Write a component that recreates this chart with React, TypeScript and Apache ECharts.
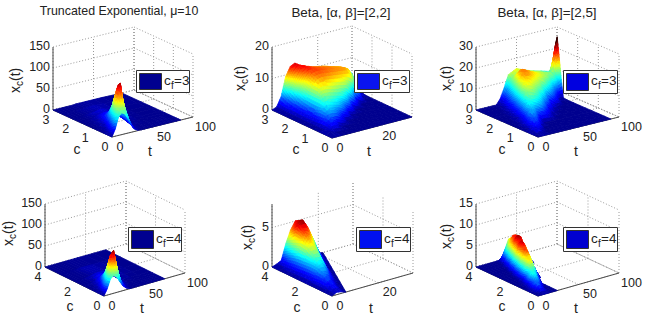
import React, { useEffect, useRef } from "react";
import * as echarts from "echarts";

const _ = null;

// ---- Panel 1: Truncated Exponential, c_f=3
const t1 = [0, 4, 8, 12, 16, 20, 24, 28, 32, 36, 40, 50, 60, 80, 85];
const c1 = [0, 0.1, 0.2, 0.3, 0.4, 0.5, 0.6, 0.8, 1, 1.3, 1.6, 2, 2.5, 3];
const z1 = [
  [0, 17, 43, 52, 47, 35, 16, 5, 1, 0, 0, 0, 0, 0, 0],
  [0, 14, 42, 60, 62, 46, 24, 9, 2, 0, 0, 0, 0, 0, 0],
  [0, 10, 34, 60, 78, 60, 30, 12, 4, 1, 0, 0, 0, 0, 0],
  [0, 6, 24, 56, 92, 78, 38, 16, 5, 1, 0, 0, 0, 0, 0],
  [0, 3, 16, 44, 94, 110, 50, 20, 7, 2, 0, 0, 0, 0, 0],
  [0, 1, 10, 32, 76, 104, 58, 24, 9, 3, 1, 0, 0, 0, 0],
  [0, 0.5, 6, 20, 56, 88, 54, 25, 10, 3, 1, 0, 0, 0, 0],
  [0, 0, 2, 8, 26, 50, 46, 28, 14, 6, 2, 0, 0, 0, 0],
  [0, 0, 1, 4, 12, 26, 32, 25, 16, 8, 3, 1, 0, 0, 0],
  [0, 0, 0, 2, 5, 11, 16, 18, 14, 9, 5, 1, 0, 0, 0],
  [0, 0, 0, 1, 2, 5, 8, 10, 10, 8, 5, 2, 0, 0, 0],
  [0, 0, 0, 0, 1, 2, 3, 4, 6, 6, 5, 2, 1, 0, 0],
  [0, 0, 0, 0, 0, 1, 1, 2, 2, 3, 3, 2, 1, 0, 0],
  [0, 0, 0, 0, 0, 0, 0, 1, 1, 1, 1, 1, 1, 0, 0],
];

// ---- Panel 2: Beta [2,2], c_f=3
const t2 = [0, 2, 4, 6, 8, 10, 12, 14, 16, 18, 20, 22, 24, 26, 28, 30, 32, 35];
const c2 = [0, 0.3, 0.6, 0.9, 1.2, 1.5, 1.8, 2.1, 2.4, 2.7, 3];
const z2 = [
  [0, 0, 0, 0, 0, 0, 0, 0, 0, 0, 0, 0, 0, 0, 0, 0, 0, 0],
  [0, 0.9, 0.2, 0, 0, 0, 0, 0, 0, 0, 0, 0, 0, 0, 0, 0, 0, 0],
  [0, 0.4, 1.7, 2.2, 0.8, 0, 0, 0, 0, 0, 0, 0, 0, 0, 0, 0, 0, 0],
  [0, 0.3, 2, 3.5, 3.6, 3.2, 1.8, 0.2, 0, 0, 0, 0, 0, 0, 0, 0, 0, 0],
  [0, 0.3, 1.5, 4, 5.3, 5, 4.6, 4.2, 2.8, 0.5, 0, 0, 0, 0, 0, 0, 0, 0],
  [0, 0.3, 1.5, 3.3, 6, 6.8, 6.6, 6.2, 5.8, 5.4, 4, 0.8, 0, 0, 0, 0, 0, 0],
  [0, 0.3, 1.5, 3.4, 6, 8.3, 8.8, 8.5, 8.1, 7.8, 7.5, 7.2, 5.2, 1.5, 0, 0, 0, 0],
  [0, 0.35, 1.7, 3.8, 6, 8.5, 10, 10.4, 10.2, 10, 9.8, 9.6, 9.4, 9.2, 6.5, 2.5, 0, 0],
  [0, 0.4, 2, 4.5, 7, 9.2, 10.8, 11.3, 11.2, 11, 10.8, 10.6, 10.5, 10.3, 9.5, 7, 2.3, 0],
  [0, 0.5, 2.5, 6, 9.5, 11.5, 12.4, 11.8, 11.3, 11, 10.7, 10.4, 10, 9.7, 9, 8.3, 5, 0.5],
  [0, 0.6, 3.5, 9.5, 12.3, 13, 12, 11.3, 10.8, 10.3, 10, 9.7, 9.3, 8.5, 8, 7.5, 6.7, 5],
];

// ---- Panel 3: Beta [2,5], c_f=3
const t3 = [0, 5, 10, 15, 20, 25, 30, 35, 40, 50, 60, 70, 80, 85, 90];
const c3 = [0, 0.3, 0.6, 0.9, 1.2, 1.5, 1.8, 2.1, 2.3, 2.4, 2.5, 2.6, 2.7, 2.85, 3];
const z3 = [
  [0, 0, 0, 0, 0, 0, 0, 0, 0, 0, 0, 0, 0, 0, 0],
  [0, 3, 1.5, 0, 0, 0, 0, 0, 0, 0, 0, 0, 0, 0, 0],
  [0, 1, 5.5, 4, 0, 0, 0, 0, 0, 0, 0, 0, 0, 0, 0],
  [0, 0, 3, 7.8, 6, 2, 0, 0, 0, 0, 0, 0, 0, 0, 0],
  [0, 0, 0.5, 4, 10, 9, 8, 6.5, 3.5, 0, 0, 0, 0, 0, 0],
  [0, 0, 0, 1.5, 6, 12.5, 12, 11, 9.5, 3, 0, 0, 0, 0, 0],
  [0, 0, 0, 0.3, 3, 8.5, 15.5, 15, 13.5, 11, 3, 0, 0, 0, 0],
  [0, 0, 0, 0, 1, 4.5, 11, 18, 18, 15, 13, 7, 0, 0, 0],
  [0, 0, 0, 0, 0.3, 3, 8, 14.5, 18.5, 16.5, 14.5, 12.5, 5, 0.8, 0.3],
  [0, 0, 0, 0, 0.1, 2, 6.5, 12.5, 18, 16.3, 14.3, 12.5, 11, 7, 8.7],
  [0, 0, 0, 0, 0, 1.5, 5.5, 11, 16.5, 15.6, 14.3, 13.2, 12, 10, 18.6],
  [0, 0, 0, 0, 0, 0.8, 4.2, 9.5, 15, 15.3, 14.2, 13, 11.8, 11.5, 28],
  [0, 0, 0, 0, 0, 0.4, 3, 8, 13.5, 14.9, 13.8, 12.7, 11.5, 10.5, 23],
  [0, 0, 0, 0, 0, 0.2, 1.8, 6, 11.5, 14.3, 13.4, 12.2, 10.8, 10, 11],
  [0, 0, 0, 0, 0, 0, 2.6, 7.5, 13, 15, 13.3, 12, 11, 10.4, 9.8],
];

// ---- Panel 4: Truncated Exponential, c_f=4
const t4 = [0, 4, 8, 12, 16, 20, 24, 28, 32, 36, 40, 50, 60, 75];
const c4 = [0, 0.15, 0.3, 0.45, 0.6, 0.8, 1, 1.4, 2, 3, 4];
const z4 = [
  [0, 15, 36, 42, 36, 22, 10, 3, 0, 0, 0, 0, 0, 0],
  [0, 12, 36, 54, 60, 40, 18, 6, 1, 0, 0, 0, 0, 0],
  [0, 8, 28, 54, 82, 64, 28, 10, 3, 0, 0, 0, 0, 0],
  [0, 4, 18, 42, 80, 90, 44, 16, 5, 1, 0, 0, 0, 0],
  [0, 2, 10, 28, 58, 76, 48, 20, 7, 2, 0, 0, 0, 0],
  [0, 0, 5, 14, 34, 48, 40, 22, 10, 3, 1, 0, 0, 0],
  [0, 0, 2, 7, 18, 28, 30, 20, 11, 5, 2, 0, 0, 0],
  [0, 0, 0, 2, 5, 10, 13, 13, 10, 6, 3, 1, 0, 0],
  [0, 0, 0, 0, 1, 2, 4, 5, 5, 5, 3, 2, 0, 0],
  [0, 0, 0, 0, 0, 0, 1, 1, 1, 1, 1, 1, 0, 0],
  [0, 0, 0, 0, 0, 0, 0, 0, 0, 0, 0, 0, 0, 0],
];

// ---- Panel 5: Beta [2,2], c_f=4
const t5 = [0, 2, 4, 6, 8, 10, 12, 14, 16, 18, 20, 22];
const c5 = [0, 0.5, 1, 1.5, 2, 2.5, 3, 3.5, 4];
const z5 = [
  [0, 0.3, 0.2, 0, _, _, _, _, _, _, _, _],
  [0, 0.6, 0.7, 0.1, 0, _, _, _, _, _, _, _],
  [0, 0.8, 1.3, 0.7, 0.1, 0, _, _, _, _, _, _],
  [0, 0.7, 1.7, 1.8, 1, 0.1, 0, _, _, _, _, _],
  [0, 0.6, 1.8, 2.5, 2.4, 1.2, 0.1, 0, _, _, _, _],
  [0, 0.5, 1.7, 3.2, 3.4, 2.6, 1, 0.1, 0, _, _, _],
  [0, 0.4, 1.6, 3.4, 4.5, 4, 2.8, 1.3, 0.2, 0, _, _],
  [0, 0.3, 1.3, 3, 5.3, 5.6, 4.6, 3.2, 1.7, 0.3, 0, _],
  [0, 0.2, 0.5, 2.5, 4, 5, 4.7, 3.8, 2.6, 1.3, 0.1, 0],
];

// ---- Panel 6: Beta [2,5], c_f=4
const t6 = [0, 4, 8, 12, 16, 20, 24, 28, 32, 36, 40, 44, 48, 52, 56, 60];
const c6 = [0, 0.5, 1, 1.5, 2, 2.5, 3, 3.5, 4];
const z6 = [
  [0, 0, 0, 0, 0, 0, 0, _, _, _, _, _, _, _, _, _],
  [0, 0.6, 2, 1.2, 0.2, 0, 0, _, _, _, _, _, _, _, _, _],
  [0, 0, 0.8, 3.3, 2.8, 0.6, 0, _, _, _, _, _, _, _, _, _],
  [0, 0, 0, 0.8, 4.2, 5, 2.8, 0.6, 0, _, _, _, _, _, _, _],
  [0, 0, 0, 0, 1.8, 5, 6.4, 4.6, 1.8, 0, _, _, _, _, _, _],
  [0, 0, 0, 0, 0, 2, 5.8, 7.3, 6, 3.2, 1, 0, _, _, _, _],
  [0, 0, 0, 0, 0, 0, 1.8, 5.3, 7.5, 7, 4.5, 2, 0.4, 0, _, _],
  [0, 0, 0, 0, 0, 0, 0, 1.5, 4.5, 6.4, 6.3, 4.5, 2.4, 0.8, 0, _],
  [0, 0, 0, 0, 0, 0, 0, 0, 0.6, 2.3, 4.4, 4.5, 3.2, 1.7, 0.5, 0],
];

const titles = ["Truncated Exponential, μ=10", "Beta, [α, β]=[2,2]", "Beta, [α, β]=[2,5]", "", "", ""];
const titleSizes = [12.4, 13.4, 13.4, 0, 0, 0];
const legendLabels = ["=3", "=3", "=3", "=4", "=4", "=4"];
const legendColors = ["#00008f", "#0a14f0", "#0000e0", "#00008f", "#0010f0", "#0000d0"];
const tTicks = [[0, 50, 100], [0, 20], [0, 50, 100], [0, 50, 100], [0, 20], [0, 50, 100]];
const cTicks = [[0, 1, 2, 3], [0, 1, 2, 3], [0, 1, 2, 3], [0, 2, 4], [0, 2, 4], [0, 2, 4]];
const zTicks = [[0, 50, 100, 150], [0, 10, 20], [0, 10, 20, 30], [0, 50, 100, 150], [0, 5], [0, 5, 10, 15]];
const tMax = [100, 35, 100, 100, 35, 100];
const cMax = [3, 3, 3, 4, 4, 4];
const zMax = [150, 20, 30, 150, 8, 15];
const colorMax = [112, 14, 24, 90, 5.6, 7.5];

const surfaces = [
  { t: t1, c: c1, z: z1 },
  { t: t2, c: c2, z: z2 },
  { t: t3, c: c3, z: z3 },
  { t: t4, c: c4, z: z4 },
  { t: t5, c: c5, z: z5 },
  { t: t6, c: c6, z: z6 },
];

// Layout: projected box corners in page pixels.
const layout = [
  { L: [53, 110], F: [112, 137], R: [193, 117], title: [119, 11], cLab: [77, 149], tLab: [150, 151], yLab: [15, 80], legend: [136, 70, 53, 22] },
  { L: [272, 110], F: [332, 138], R: [412, 117], title: [341, 12], cLab: [296, 149], tLab: [369, 151], yLab: [240, 78], legend: [354, 70, 55, 22] },
  { L: [476, 110], F: [538, 137], R: [619, 117], title: [547, 12], cLab: [502, 149], tLab: [576, 151], yLab: [446, 78], legend: [563, 70, 54, 23] },
  { L: [45, 267], F: [104, 296], R: [185, 273], title: [0, 0], cLab: [70, 306], tLab: [142, 308], yLab: [8, 233], legend: [128, 227, 53, 24] },
  { L: [272, 267], F: [332, 296], R: [413, 273], title: [0, 0], cLab: [297, 307], tLab: [371, 308], yLab: [247, 237], legend: [356, 227, 54, 24] },
  { L: [476, 267], F: [538, 296], R: [619, 273], title: [0, 0], cLab: [502, 306], tLab: [576, 308], yLab: [446, 236], legend: [563, 227, 54, 24] },
];
const BOX_H = 63;
const FONT = '"Liberation Sans", Arial, sans-serif';
const AXIS = "#4a4a4a";
const TXT = "#222";

function project(p: number, t: number, c: number, z: number) {
  const { L, F, R } = layout[p];
  const u = t / tMax[p];
  const v = c / cMax[p];
  return [
    F[0] + u * (R[0] - F[0]) + v * (L[0] - F[0]),
    F[1] + u * (R[1] - F[1]) + v * (L[1] - F[1]) - (BOX_H * z) / zMax[p],
  ];
}

function clamp01(x: number) {
  return Math.max(0, Math.min(1, x));
}
function jet(v: number) {
  const r = clamp01(Math.min(4 * v - 1.5, -4 * v + 4.5));
  const g = clamp01(Math.min(4 * v - 0.5, -4 * v + 3.5));
  const b = clamp01(Math.min(4 * v + 0.5625, -4 * v + 2.5));
  return `rgb(${Math.round(r * 255)},${Math.round(g * 255)},${Math.round(b * 255)})`;
}

function surfaceSeries(p: number) {
  const { t, c, z } = surfaces[p];
  const cells: number[][] = [];
  for (let i = c.length - 2; i >= 0; i--) {
    for (let j = t.length - 2; j >= 0; j--) {
      const missing = [z[i][j], z[i][j + 1], z[i + 1][j], z[i + 1][j + 1]].filter((v) => v === null).length;
      if (missing <= 1) cells.push([i, j]);
    }
  }
  return {
    type: "custom",
    xAxisIndex: p,
    yAxisIndex: p,
    silent: true,
    clip: false,
    progressive: 0,
    z: 3,
    data: cells,
    encode: { x: 0, y: 1 },
    renderItem: (params: any, api: any) => {
      const [i, j] = cells[params.dataIndex];
      const corners: [number, number][] = [[i, j], [i, j + 1], [i + 1, j + 1], [i + 1, j]];
      const hasGap = corners.some(([r, s]) => z[r][s] === null);
      if (hasGap) {
        const kept = corners.filter(([r, s]) => z[r][s] !== null);
        const mean = kept.reduce((sum, [r, s]) => sum + (z[r][s] as number), 0) / kept.length;
        const col = jet(mean / colorMax[p]);
        return {
          type: "polygon",
          shape: { points: kept.map(([r, s]) => api.coord(project(p, t[s], c[r], z[r][s] as number))) },
          style: { fill: col, stroke: col, lineWidth: 0.8 },
        };
      }
      const a = z[i][j] as number, b = z[i][j + 1] as number, d = z[i + 1][j] as number, e = z[i + 1][j + 1] as number;
      const range = Math.max(a, b, d, e) - Math.min(a, b, d, e);
      const n = Math.max(1, Math.min(6, Math.ceil((range / colorMax[p]) * 14)));
      const children: any[] = [];
      const at = (su: number, sv: number) => {
        const tt = t[j] + su * (t[j + 1] - t[j]);
        const cc = c[i] + sv * (c[i + 1] - c[i]);
        const zz = (1 - su) * (1 - sv) * a + su * (1 - sv) * b + (1 - su) * sv * d + su * sv * e;
        return { pt: api.coord(project(p, tt, cc, zz)), zz };
      };
      for (let sv = n - 1; sv >= 0; sv--) {
        for (let su = n - 1; su >= 0; su--) {
          const q = [at(su / n, sv / n), at((su + 1) / n, sv / n), at((su + 1) / n, (sv + 1) / n), at(su / n, (sv + 1) / n)];
          const mean = (q[0].zz + q[1].zz + q[2].zz + q[3].zz) / 4;
          const col = jet(mean / colorMax[p]);
          children.push({
            type: "polygon",
            shape: { points: q.map((o) => o.pt) },
            style: { fill: col, stroke: col, lineWidth: 0.8 },
          });
        }
      }
      return { type: "group", children };
    },
  };
}

function frameSeries(p: number) {
  const tm = tMax[p], cm = cMax[p], zm = zMax[p];
  const segs: { a: number[]; b: number[]; solid: boolean }[] = [];
  const P = (t: number, c: number, z: number) => project(p, t, c, z);
  zTicks[p].forEach((z) => {
    segs.push({ a: P(0, cm, z), b: P(tm, cm, z), solid: false });
    segs.push({ a: P(tm, cm, z), b: P(tm, 0, z), solid: false });
  });
  tTicks[p].forEach((t) => {
    segs.push({ a: P(t, cm, 0), b: P(t, cm, zm), solid: false });
    segs.push({ a: P(t, 0, 0), b: P(t, cm, 0), solid: false });
  });
  cTicks[p].forEach((c) => {
    segs.push({ a: P(tm, c, 0), b: P(tm, c, zm), solid: false });
    segs.push({ a: P(0, c, 0), b: P(tm, c, 0), solid: false });
  });
  segs.push({ a: P(tm, cm, 0), b: P(tm, cm, zm), solid: false });
  segs.push({ a: P(tm, cm, 0), b: P(tm, 0, 0), solid: false });
  // solid axes
  segs.push({ a: P(0, cm, 0), b: P(0, cm, zm), solid: true });
  segs.push({ a: P(0, cm, 0), b: P(0, 0, 0), solid: true });
  segs.push({ a: P(0, 0, 0), b: P(tm, 0, 0), solid: true });
  return {
    type: "custom",
    xAxisIndex: p,
    yAxisIndex: p,
    silent: true,
    clip: false,
    progressive: 0,
    z: 2,
    data: segs.map((_s, i) => [i, i]),
    encode: { x: 0, y: 1 },
    renderItem: (params: any, api: any) => {
      const s = segs[params.dataIndex];
      const a = api.coord(s.a), b = api.coord(s.b);
      return {
        type: "line",
        shape: { x1: a[0], y1: a[1], x2: b[0], y2: b[1] },
        style: s.solid
          ? { stroke: AXIS, lineWidth: 1, fill: "none" }
          : { stroke: "#9a9a9a", lineWidth: 1, lineDash: [1, 2], fill: "none" },
      };
    },
  };
}

function labelSeries(p: number) {
  const items: { pos: number[]; text: string; align: string; dx: number; dy: number }[] = [];
  zTicks[p].forEach((z) => items.push({ pos: project(p, 0, cMax[p], z), text: String(z), align: "right", dx: -3, dy: -1 }));
  tTicks[p].forEach((t) => items.push({ pos: project(p, t, 0, 0), text: String(t), align: "left", dx: t === 100 ? 2 : 4.5, dy: 9.5 }));
  cTicks[p].forEach((c) => items.push({ pos: project(p, 0, c, 0), text: String(c), align: "center", dx: -7, dy: 10 }));
  return {
    type: "custom",
    xAxisIndex: p,
    yAxisIndex: p,
    silent: true,
    clip: false,
    progressive: 0,
    z: 5,
    data: items.map((_s, i) => [i, i]),
    encode: { x: 0, y: 1 },
    renderItem: (params: any, api: any) => {
      const it = items[params.dataIndex];
      const a = api.coord(it.pos);
      return {
        type: "text",
        style: {
          x: a[0] + it.dx,
          y: a[1] + it.dy,
          text: it.text,
          fill: TXT,
          font: `12.5px ${FONT}`,
          align: it.align,
          verticalAlign: "middle",
        },
      };
    },
  };
}

function textEl(text: string, x: number, y: number, size: number, align = "center") {
  return {
    type: "text",
    x,
    y,
    z: 20,
    silent: true,
    style: { text, fill: TXT, font: `${size}px ${FONT}`, align, verticalAlign: "middle" },
  };
}

function panelGraphics(p: number) {
  const l = layout[p];
  const [lx, ly, lw, lh] = l.legend;
  const els: any[] = [];
  if (titles[p]) els.push(textEl(titles[p], l.title[0], l.title[1], titleSizes[p]));
  els.push(textEl("c", l.cLab[0], l.cLab[1], 14));
  els.push(textEl("t", l.tLab[0], l.tLab[1], 14));
  els.push({
    type: "group",
    x: l.yLab[0],
    y: l.yLab[1],
    rotation: Math.PI / 2,
    silent: true,
    z: 20,
    children: [
      textEl("x", -13, 0, 14, "left"),
      textEl("c", -6, 4, 10, "left"),
      textEl("(t)", -1, 0, 14, "left"),
    ],
  });
  els.push({
    type: "rect",
    z: 18,
    silent: true,
    shape: { x: lx + 0.5, y: ly + 0.5, width: lw, height: lh },
    style: { fill: "#fff", stroke: "#333", lineWidth: 1 },
  });
  els.push({
    type: "rect",
    z: 19,
    silent: true,
    shape: { x: lx + 3.5, y: ly + 3.5, width: 22, height: lh - 6 },
    style: { fill: legendColors[p], stroke: "#333", lineWidth: 1 },
  });
  els.push(textEl("c", lx + 28, ly + lh / 2 - 1, 13.5, "left"));
  els.push(textEl("f", lx + 35, ly + lh / 2 + 4, 10, "left"));
  els.push(textEl(legendLabels[p], lx + 38, ly + lh / 2 - 1, 13.5, "left"));
  return els;
}

export default function App() {
  const ref = useRef<HTMLDivElement>(null);
  useEffect(() => {
    if (!ref.current) return;
    const chart = echarts.init(ref.current, undefined, { renderer: "svg", width: 654, height: 325 });
    const grids = layout.map((_l, p) => ({ left: p % 3 * 218, top: p < 3 ? 0 : 162, width: 218, height: p < 3 ? 162 : 163, containLabel: false }));
    const series: any[] = [];
    layout.forEach((_l, p) => {
      series.push(frameSeries(p), surfaceSeries(p), labelSeries(p));
    });
    chart.setOption({
      animation: false,
      backgroundColor: "#fff",
      grid: grids,
      xAxis: grids.map((g, i) => ({ type: "value", gridIndex: i, show: false, min: g.left, max: g.left + g.width })),
      yAxis: grids.map((g, i) => ({ type: "value", gridIndex: i, show: false, inverse: true, min: g.top, max: g.top + g.height })),
      series,
      graphic: { elements: layout.flatMap((_l, p) => panelGraphics(p)) },
    });
    return () => chart.dispose();
  }, []);
  return <div ref={ref} style={{ position: "absolute", left: 0, top: 0, width: 654, height: 325 }} />;
}
